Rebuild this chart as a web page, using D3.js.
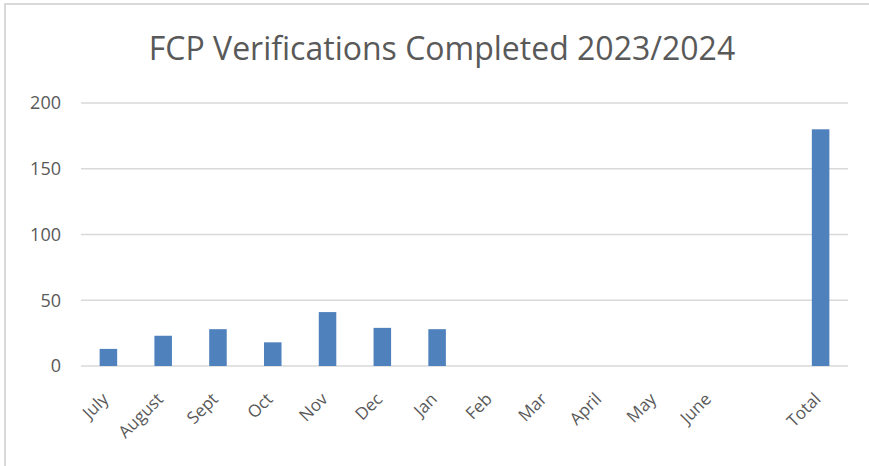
<!DOCTYPE html>
<html>
<head>
<meta charset="utf-8">
<script src="https://cdn.jsdelivr.net/npm/d3@7"></script>
<style>
  body { margin: 0; background: #fff; }
  svg { display: block; }
  .axis text { fill: #595959; font-family: "Open Sans", sans-serif; }
</style>
</head>
<body>
<svg width="869" height="466"></svg>
<script>
// data
var months = ['July', 'August', 'Sept', 'Oct', 'Nov', 'Dec', 'Jan', 'Feb', 'Mar', 'April', 'May', 'June', '', 'Total'];
var completed = [13, 23, 28, 18, 41, 29, 28, null, null, null, null, null, null, 180];
var yTicks = [0, 50, 100, 150, 200];

var rows = months.map(function(m, i) {
    return { key: 'c' + i, label: m, value: completed[i] };
});

var svg = d3.select('svg');

// chart frame (cut off at right and bottom)
svg.append('path')
    .attr('d', 'M5,470V4H875')
    .attr('fill', 'none')
    .attr('stroke', '#d9d9d9')
    .attr('stroke-width', 2);

var xScale = d3.scaleBand()
    .domain(rows.map(function(d) { return d.key; }))
    .range([81, 848])
    .paddingInner(0.68)
    .paddingOuter(0.34);

var yScale = d3.scaleLinear()
    .domain([0, 200])
    .range([366, 103]);

// gridlines
svg.append('g')
    .selectAll('line')
    .data(yTicks)
    .enter()
    .append('line')
    .attr('x1', 81)
    .attr('x2', 848)
    .attr('y1', function(d) { return yScale(d); })
    .attr('y2', function(d) { return yScale(d); })
    .attr('stroke', '#d9d9d9')
    .attr('stroke-width', 1.5);

// bars
svg.append('g')
    .selectAll('rect')
    .data(rows.filter(function(d) { return d.value != null; }))
    .enter()
    .append('rect')
    .attr('x', function(d) { return xScale(d.key); })
    .attr('y', function(d) { return yScale(d.value); })
    .attr('width', xScale.bandwidth())
    .attr('height', function(d) { return yScale(0) - yScale(d.value); })
    .style('fill', '#4f81bd');

// y axis
var yAxis = d3.axisLeft(yScale).tickValues(yTicks).tickSize(0).tickPadding(0);
svg.append('g')
    .attr('class', 'y axis')
    .attr('transform', 'translate(61,0)')
    .call(yAxis)
    .call(function(g) { g.select('.domain').remove(); })
    .selectAll('text')
    .style('font-size', '18px');

// x axis
var xAxis = d3.axisBottom(xScale)
    .tickSize(0)
    .tickFormat(function(k) { return rows.find(function(d) { return d.key === k; }).label; });
svg.append('g')
    .attr('class', 'x axis')
    .attr('transform', 'translate(0,366)')
    .call(xAxis)
    .call(function(g) { g.select('.domain').remove(); })
    .selectAll('text')
    .style('font-size', '17px')
    .attr('text-anchor', 'end')
    .attr('dy', '0')
    .attr('transform', 'translate(-1,32)rotate(-45)');

// title
svg.append('text')
    .attr('x', 442)
    .attr('y', 60)
    .attr('text-anchor', 'middle')
    .style('font-family', '"Open Sans", sans-serif')
    .style('font-size', '32px')
    .style('fill', '#595959')
    .text('FCP Verifications Completed 2023/2024');
</script>
</body>
</html>
